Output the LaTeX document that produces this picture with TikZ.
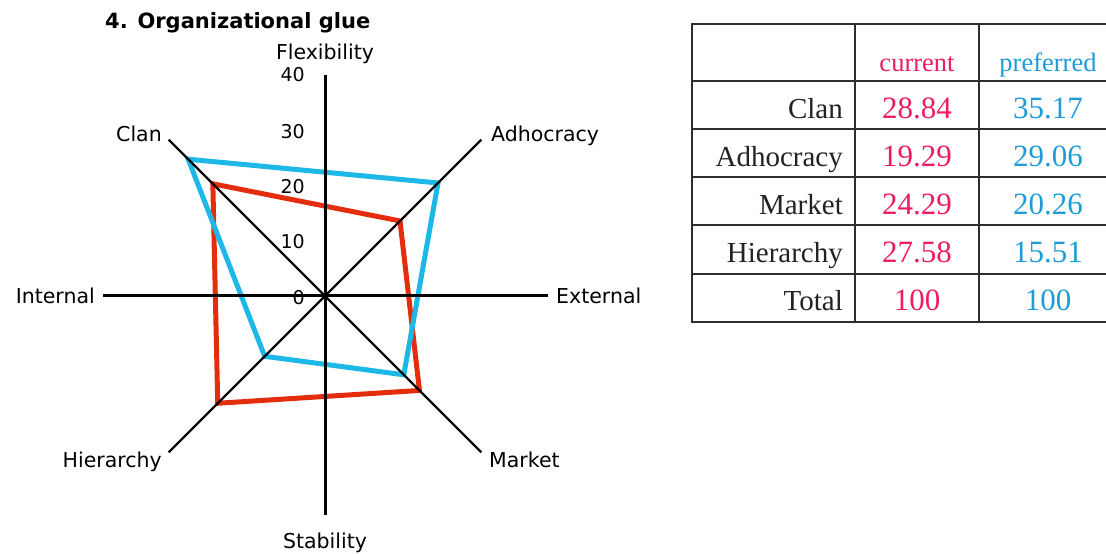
\documentclass[tikz,border=0pt]{standalone}
\usepackage{fontspec}
\newfontfamily\chartfont{DejaVu Sans}
\setmainfont{Liberation Serif}
\usetikzlibrary{calc}
\definecolor{chartred}{HTML}{E42D0C}
\definecolor{chartblue}{HTML}{1DB8E8}
\definecolor{txtred}{HTML}{EE1C62}
\definecolor{txtblue}{HTML}{1E9CD8}
\definecolor{rulegray}{HTML}{2E2E2E}
\definecolor{txtgray}{HTML}{222222}
\begin{document}
\begin{tikzpicture}[x=1pt,y=1pt,
  axisline/.style={line width=3pt, black},
  diagline/.style={line width=2.2pt, black},
  curline/.style={line width=5pt, chartred},
  prefline/.style={line width=5pt, chartblue},
  axlabel/.style={font=\chartfont\fontsize{20.5}{24}\selectfont, inner sep=0pt},
  ticklabel/.style={font=\chartfont\fontsize{19}{22}\selectfont, inner sep=0pt, anchor=east},
  titlelabel/.style={font=\chartfont\bfseries\fontsize{21}{25}\selectfont, inner sep=0pt, anchor=base west},
  rulebar/.style={line width=2.5pt, rulegray, line cap=rect},
  rowname/.style={font=\fontsize{29}{33}\selectfont, text=txtgray, anchor=base east, inner sep=0pt},
  curval/.style={font=\fontsize{31}{35}\selectfont, text=txtred, anchor=base, inner sep=0pt},
  prefval/.style={font=\fontsize{31}{35}\selectfont, text=txtblue, anchor=base, inner sep=0pt},
  headcur/.style={font=\fontsize{26.5}{30}\selectfont, text=txtred, anchor=base, inner sep=0pt},
  headpref/.style={font=\fontsize{26.5}{30}\selectfont, text=txtblue, anchor=base, inner sep=0pt},
]
\useasboundingbox (0,0) rectangle (1106,554);

% ---------- radar chart ----------
\coordinate (O) at (325,258);
\coordinate (aN)  at ($(O)+(90:221)$);
\coordinate (aS)  at ($(O)+(270:219)$);
\coordinate (aW)  at ($(O)+(180:222)$);
\coordinate (aE)  at ($(O)+(0:223)$);
\coordinate (aNW) at ($(O)+(135:221)$);
\coordinate (aNE) at ($(O)+(45:221)$);
\coordinate (aSW) at ($(O)+(225:221)$);
\coordinate (aSE) at ($(O)+(315:221)$);

\node[titlelabel] (title) at (105,525) {4. Organizational glue};

% scale labels (5.5pt per unit)
\node[ticklabel] (t40) at (305,479) {40};
\node[ticklabel] (t30) at (305,422) {30};
\node[ticklabel] (t20) at (305,367) {20};
\node[ticklabel] (t10) at (305,312) {10};
\node[ticklabel] (t0)  at (305,256) {0};

% current (red) and preferred (blue) profiles
\coordinate (cClan) at ($(O)+(135:{28.84*5.5})$);
\coordinate (cAdho) at ($(O)+(45:{19.29*5.5})$);
\coordinate (cMark) at ($(O)+(315:{24.29*5.5})$);
\coordinate (cHier) at ($(O)+(225:{27.58*5.5})$);
\coordinate (pClan) at ($(O)+(135:{35.17*5.5})$);
\coordinate (pAdho) at ($(O)+(45:{29.06*5.5})$);
\coordinate (pMark) at ($(O)+(315:{20.26*5.5})$);
\coordinate (pHier) at ($(O)+(225:{15.51*5.5})$);
\draw[curline]  (cClan) -- (cAdho) -- (cMark) -- (cHier) -- cycle;
\draw[prefline] (pClan) -- (pAdho) -- (pMark) -- (pHier) -- cycle;

% axes
\draw[diagline] (aNW) -- (aSE);
\draw[diagline] (aNE) -- (aSW);
\draw[axisline] (aW) -- (aE);
\draw[axisline] (aN) -- (aS);

% axis labels
\node[axlabel, anchor=base] (lFlex) at (325,494) {Flexibility};
\node[axlabel, anchor=base] (lStab) at (325,5) {Stability};
\node[axlabel, anchor=base east] (lInt) at (95,250) {Internal};
\node[axlabel, anchor=base west] (lExt) at (556,250) {External};
\node[axlabel, anchor=base east] (lClan) at (162,412) {Clan};
\node[axlabel, anchor=base west] (lAdho) at (491,412) {Adhocracy};
\node[axlabel, anchor=base east] (lHier) at (162,86) {Hierarchy};
\node[axlabel, anchor=base west] (lMark) at (489,86) {Market};

% ---------- score table ----------
\foreach \yy in {530,473,425,377,329,280,232}
  \draw[rulebar] (692,\yy) -- (1106,\yy);
\foreach \xx in {692,855,979}
  \draw[rulebar] (\xx,530) -- (\xx,232);

\node[headcur]  (hCur)  at (917,482) {current};
\node[headpref] (hPref) at (1048,482) {preferred};

\node[rowname] (rClan) at (843,435) {Clan};
\node[rowname] (rAdho) at (843,387) {Adhocracy};
\node[rowname] (rMark) at (843,339) {Market};
\node[rowname] (rHier) at (843,291) {Hierarchy};
\node[rowname] (rTot)  at (843,243) {Total};

\node[curval] (vc1) at (917,435) {28.84};
\node[curval] (vc2) at (917,387) {19.29};
\node[curval] (vc3) at (917,339) {24.29};
\node[curval] (vc4) at (917,291) {27.58};
\node[curval] (vc5) at (917,243) {100};

\node[prefval] (vp1) at (1048,435) {35.17};
\node[prefval] (vp2) at (1048,387) {29.06};
\node[prefval] (vp3) at (1048,339) {20.26};
\node[prefval] (vp4) at (1048,291) {15.51};
\node[prefval] (vp5) at (1048,243) {100};
\end{tikzpicture}
\end{document}
